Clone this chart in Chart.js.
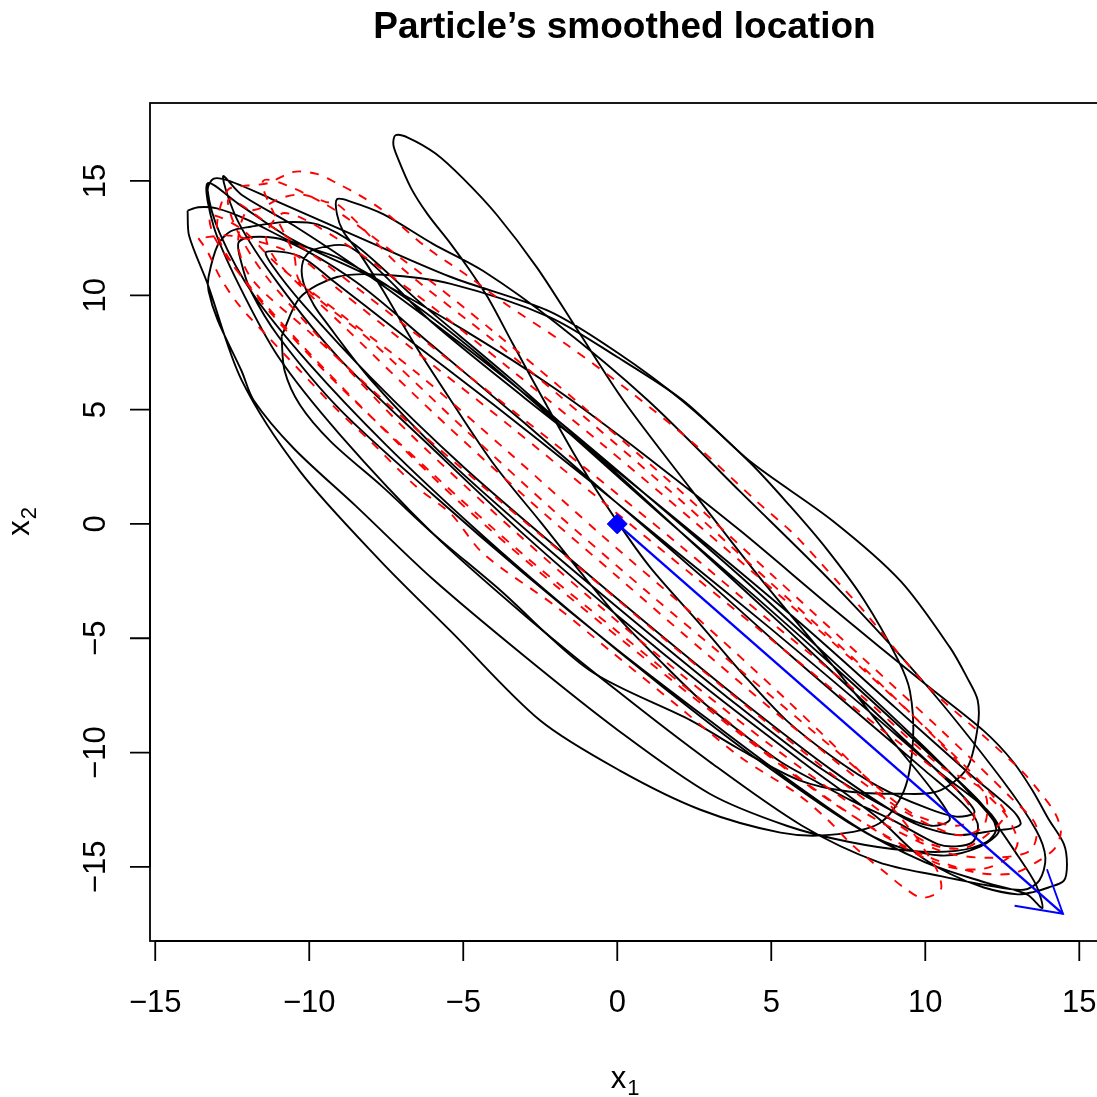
<!DOCTYPE html>
<html>
<head>
<meta charset="utf-8">
<script src="https://cdn.jsdelivr.net/npm/chart.js@4.4.1/dist/chart.umd.min.js"></script>
<style>
  html, body { margin: 0; padding: 0; background: #fff; overflow: hidden; }
  canvas { display: block; }
</style>
</head>
<body>
<canvas id="chart" width="1110" height="1097"></canvas>
<script>
// Axis ticks
const xTicks = [-15, -10, -5, 0, 5, 10, 15];
const yTicks = [-15, -10, -5, 0, 5, 10, 15];

// True path (black), read loop by loop off the picture
const blackLoop1 = [[-13.95,13.7],[-13.9,12.6],[-13.3,10.5],[-12.2,6.3],[-10.3,2.3],[-7.7,-1.6],[-5.4,-4.7],[-2.5,-8.6],[0.1,-10.8],[2.7,-12.5],[5.3,-13.5],[6.9,-13.6],[8.5,-13.1],[9.3,-11.7],[9.6,-9.5],[9.5,-7.3],[9.1,-5.9],[8.0,-3.3],[6.8,-1.1],[5.6,0.8],[4.3,2.7],[2.1,5.4],[0,7.5],[-2.2,9.3],[-5.4,10.8],[-8.5,12.6],[-11.2,14.2],[-12.6,15.0]];
const blackLoop2 = [[-13.1,15.1],[-13.3,14.6],[-12.9,12.7],[-11.8,10.0],[-10,7.0],[-7.5,3.45],[-4.5,-0.35],[-1.5,-3.85],[1.5,-7.15],[4.5,-10.25],[7.5,-13.05],[10,-14.8],[12,-15.7],[13.3,-16.2],[13.8,-16.8],[13.6,-15.8],[13.0,-14.5],[12,-12.6],[10,-9.8],[7,-6.0],[4,-2.3],[1,1.2],[-2,4.6],[-5,7.8],[-8,10.8],[-10.5,13.05],[-12.2,14.4]];
const blackLoop3 = [[-12.8,15.2],[-12.3,13.2],[-11,10.5],[-9,7.2],[-6,3.3],[-3,-0.5],[0,-4.0],[3,-7.3],[6,-10.4],[8.5,-12.9],[9.7,-14.4],[10.8,-15.3],[11.9,-15.9],[13.0,-16.2],[13.5,-16.1],[14.0,-15.9],[14.5,-15.6],[14.6,-14.9],[14.5,-14.0],[14.0,-12.9],[13.5,-11.7],[12.85,-10.4],[11.9,-9.05],[10,-7.0],[7,-3.7],[4,-0.3],[1,2.9],[-2,5.9],[-5,8.5],[-8,10.8],[-10.5,12.4],[-12.3,14.0]];
const blackLoop4 = [[-13.3,14.9],[-13.1,13.0],[-12.3,10.5],[-11,7.3],[-9,3.9],[-6,-0.4],[-3,-4.0],[0,-7.3],[3,-10.4],[6,-13.2],[8.5,-14.8],[10.5,-15.4],[12,-15.8],[13.2,-16.0],[13.7,-15.6],[13.9,-14.6],[13.6,-13.4],[12.5,-11.2],[10,-7.0],[7,-2.6],[4,1.4],[1,5.4],[-2,8.8],[-4.35,11.06],[-5.97,12.24],[-7.6,13.55],[-8.66,14.1]];
const blackLoop5 = [[-9.1,14.2],[-9.1,13.55],[-8.9,12.8],[-8.4,11.9],[-7.6,10.2],[-6.6,7.9],[-5.4,5.4],[-4,2.6],[-2.5,0.1],[-1.2,-2.1],[0.1,-4.2],[1.4,-6.0],[2.7,-7.7],[4,-9.1],[5.3,-10.4],[6.5,-11.3],[7.6,-12.1],[9,-13.0],[10.4,-14.0],[11.0,-14.1],[11.55,-13.9],[11.7,-13.1],[11.2,-12.2],[10,-10.8],[8,-8.5],[5.5,-5.6],[3,-2.6],[0,0.9],[-3,4.4],[-6,7.8],[-8.5,10.6],[-10.8,12.4],[-11.9,12.55]];
const blackLoop6 = [[-12.3,12.3],[-12.2,11.4],[-11.9,10.2],[-11,8.2],[-9,5.0],[-6,1.3],[-3,-2.2],[0,-5.5],[3,-8.6],[6,-11.6],[8.5,-13.8],[10.5,-14.5],[11.8,-14.1],[12.4,-13.4],[12.0,-12.5],[10.5,-10.9],[8,-8.0],[5,-4.6],[2,-1.3],[-1,2.0],[-4,5.2],[-7,8.3],[-9.2,10.6],[-10.3,11.7]];
const blackLoop7 = [[-11.4,11.9],[-11.2,11.3],[-10.2,9.6],[-8,6.4],[-5,2.5],[-2,-1.0],[1,-4.4],[4,-7.7],[7,-10.8],[9.5,-13.0],[11,-13.6],[12.3,-13.4],[12.85,-13.3],[13.1,-13.1],[12.85,-12.55],[11.5,-11.0],[9,-8.0],[6,-4.4],[3,-1.0],[0,2.3],[-3,5.5],[-6,8.8],[-8.66,12.1],[-9.86,12.0]];
const blackLoop8 = [[-10.2,11.5],[-10.2,10.6],[-9.86,9.6],[-9.5,8.9],[-8,6.3],[-5.5,2.8],[-2.5,-0.8],[0.5,-4.2],[3.5,-7.5],[6.5,-10.6],[9,-12.6],[10.2,-13.2],[10.8,-12.9],[10.2,-11.6],[9,-9.6],[7,-6.2],[4.6,-2.3],[2.4,1.5],[0.2,5.4],[-1.3,8.5],[-2.6,11.2],[-3.9,13.5],[-5.0,15.1],[-5.9,16.2],[-6.8,16.9]];
const blackLoop9 = [[-7.2,17.0],[-7.27,16.6],[-7.14,16.05],[-6.7,14.7],[-6.16,13.55],[-5.4,12.24],[-4.77,11.06],[-4.2,9.9],[-3.4,7.9],[-2.3,5.2],[-1.2,2.6],[0,0.1],[1.07,-1.9],[2.7,-4.4],[4.1,-6.6],[5.5,-8.6],[7,-10.2],[8.5,-11.5],[10,-12.4],[11.0,-12.8],[11.6,-12.6],[11.0,-11.6],[8.5,-8.4],[5.5,-4.6],[2.5,-0.9],[-0.5,2.8],[-3.5,6.4],[-6.5,9.8],[-8.5,12.2],[-9.73,13.1],[-10.8,13.2],[-11.9,13.0],[-12.55,12.8],[-12.97,12.2]];
const blackLoop10 = [[-13.27,10.8],[-13.27,10.2],[-12.97,8.9],[-12.2,6.7],[-11.8,5.4],[-10.5,3.3],[-8.5,0.8],[-6,-2.4],[-3,-5.8],[0,-9.0],[3,-11.8],[5.5,-13.2],[7.5,-13.9],[9.5,-14.3],[11,-14.3],[12,-13.9],[12.3,-13.3],[11.8,-12.2],[10,-9.9],[7.5,-6.8],[4.5,-3.2],[1.5,0.3],[-1.5,3.9],[-4.5,7.4],[-7,10.0],[-9,11.6],[-10.5,12.3],[-12.0,13.3],[-13.0,13.8],[-13.6,13.85],[-13.95,13.7]];
const blackRound = [[-10.9,8.2],[-10.8,6.7],[-10.3,5.2],[-9.3,3.6],[-7.6,1.6],[-6,-0.4],[-3.8,-2.9],[-0.9,-6.4],[2.4,-8.6],[3.9,-9.8],[5.9,-11.2],[7.5,-11.7],[9.2,-11.8],[10.4,-11.7],[11.35,-10.7],[11.7,-8.9],[11.7,-7.7],[11.35,-6.7],[10.8,-5.4],[9.2,-2.5],[7.0,0.13],[4.3,2.75],[2.14,5.4],[0,7.3],[-2.2,9.05],[-5.4,10.5],[-7.6,10.9],[-9.1,10.8],[-10.3,9.9],[-10.9,8.2]];

// Smoothed path (red dashed)
const redLoop1 = [[-13.6,12.5],[-13.3,11.9],[-12.9,10.8],[-12.3,9.6],[-11.35,8.2],[-10.3,6.7],[-9.1,5.0],[-8,3.6],[-6.5,1.6],[-5.4,0.44],[-4.35,-1.3],[-2,-3.6],[-0.23,-5.55],[2,-8.0],[4,-10.2],[5.84,-11.8],[6.8,-12.9],[7.6,-14.0],[8.2,-14.7],[8.75,-15.3],[9.3,-15.9],[9.9,-16.35],[10.5,-16.0],[10.4,-15.2],[10.0,-14.3],[9.6,-13.5],[8,-11.0],[5.5,-7.7],[2.5,-4.0],[-0.5,-0.5],[-3.5,3.1],[-6.5,6.6],[-9,9.2],[-11,11.3],[-12.2,12.9]];
const redLoop2 = [[-13.2,13.5],[-13.1,12.6],[-12.3,11.0],[-10.5,8.2],[-8,4.7],[-5,0.8],[-2,-2.7],[1,-6.0],[4,-9.2],[7,-12.2],[9.5,-14.2],[11.5,-15.2],[12.8,-15.3],[13.6,-14.8],[14.2,-14.2],[14.4,-13.5],[14.3,-12.9],[14.1,-12.4],[13.7,-11.7],[13.2,-10.9],[12,-9.4],[10,-7.0],[8,-3.8],[7.2,-2.6],[6.6,-1.7],[5.7,-0.4],[4.6,0.9],[2.5,3.5],[0.4,5.8],[-1.6,7.8],[-3.6,9.6],[-4.8,10.8],[-6.2,12.1],[-7.6,13.7],[-8.4,14.4],[-9.1,14.9],[-9.73,15.3],[-10.5,15.4],[-11.35,14.9],[-12.0,14.8],[-12.65,14.6]];
const redLoop3 = [[-13.0,12.9],[-12.6,11.6],[-11.3,9.3],[-9,6.0],[-6,2.2],[-3,-1.4],[0,-4.7],[3,-8.0],[6,-11.2],[8.5,-13.5],[10.5,-14.9],[11.8,-15.1],[12.7,-14.6],[13.0,-13.9],[12.6,-12.7],[11.9,-11.7],[10.5,-9.6],[8,-6.3],[5,-2.6],[2,1.1],[-1,4.6],[-4,8.0],[-7,11.2],[-9,13.9],[-9.5,14.1],[-10.2,14.4],[-10.8,14.3],[-11.6,13.8],[-12.1,13.55]];
const redLoop4 = [[-12.3,12.1],[-11.8,10.6],[-10,8.4],[-7.5,5.3],[-4.5,1.8],[-1.5,-1.6],[1.5,-5.0],[4.5,-8.3],[7.5,-11.5],[10,-13.9],[11.2,-14.2],[12.0,-13.6],[12.6,-12.7],[12.2,-11.9],[11,-10.2],[8.5,-7.0],[5.5,-3.4],[2.5,0.1],[-0.5,3.5],[-3.5,6.8],[-6.5,10.0],[-9,12.4],[-10.8,13.6]];
const redLoop5 = [[-11.4,12.6],[-11.0,11.4],[-9,8.8],[-6,4.9],[-3,1.2],[0,-2.3],[3,-5.8],[6,-9.2],[9,-12.3],[11,-13.6],[11.9,-13.2],[11.9,-11.7],[10.5,-10.6],[8,-7.6],[5,-4.3],[2,-0.9],[-1,2.4],[-4,5.6],[-7,8.8],[-9.5,11.4],[-11,12.8]];
const redLoop6 = [[-12.6,14.2],[-12.4,13.0],[-11.5,11.0],[-9.5,7.9],[-7,4.3],[-4,0.5],[-1,-3.1],[2,-6.5],[5,-9.7],[8,-12.6],[10.5,-14.3],[12,-14.6],[13.4,-14.3],[13.6,-13.2],[12.8,-12.0],[10.5,-9.0],[8,-5.9],[5,-2.2],[2,1.5],[-1,5.0],[-4,8.4],[-7,11.6],[-9.5,14.0],[-11.5,15.0]];
const redLoop7 = [[-10.5,11.8],[-10.3,10.6],[-8,8.0],[-5,4.2],[-2,0.5],[1,-3.0],[4,-6.4],[7,-9.8],[9.5,-12.6],[11,-13.2],[11.6,-12.8],[10.8,-11.3],[8.5,-8.9],[5.5,-5.6],[2.5,-2.3],[-0.5,1.0],[-3.5,4.3],[-6.5,7.5],[-9,10.2],[-10.5,11.8],[-12.5,12.6],[-13.6,12.5]];

// Start point and velocity arrow (blue)
const startPoint = [0, 0];
const arrowTo = [14.47, -17.05];
const arrowWingA = [12.9, -16.7];
const arrowWingB = [13.95, -15.1];

const titleText = 'Particle\u2019s smoothed location';

const toXY = pts => pts.map(p => ({ x: p[0], y: p[1] }));
const blackPath = [].concat(blackLoop1, blackLoop2, blackLoop3, blackLoop4, blackLoop5,
                            blackLoop6, blackLoop7, blackLoop8, blackLoop9, blackLoop10);
const redPath = [].concat(redLoop1, redLoop2, redLoop3, redLoop4, redLoop5, redLoop6, redLoop7);

const FONT = '"Liberation Sans", Arial, Helvetica, sans-serif';
const fmt = v => (v < 0 ? '\u2212' + Math.abs(v) : String(v));

// R-style box, axes and titles
const rAxes = {
  id: 'rAxes',
  afterDraw(chart) {
    const ctx = chart.ctx;
    const a = chart.chartArea;
    const xs = chart.scales.x, ys = chart.scales.y;
    ctx.save();
    ctx.strokeStyle = '#000';
    ctx.fillStyle = '#000';
    ctx.lineWidth = 1.8;
    ctx.strokeRect(a.left, a.top, a.right - a.left, a.bottom - a.top);

    ctx.beginPath();
    ctx.moveTo(xs.getPixelForValue(xTicks[0]), a.bottom);
    ctx.lineTo(xs.getPixelForValue(xTicks[xTicks.length - 1]), a.bottom);
    xTicks.forEach(v => {
      const p = xs.getPixelForValue(v);
      ctx.moveTo(p, a.bottom);
      ctx.lineTo(p, a.bottom + 20);
    });
    ctx.moveTo(a.left, ys.getPixelForValue(yTicks[0]));
    ctx.lineTo(a.left, ys.getPixelForValue(yTicks[yTicks.length - 1]));
    yTicks.forEach(v => {
      const p = ys.getPixelForValue(v);
      ctx.moveTo(a.left, p);
      ctx.lineTo(a.left - 20, p);
    });
    ctx.stroke();

    ctx.font = '31px ' + FONT;
    ctx.textAlign = 'center';
    ctx.textBaseline = 'alphabetic';
    xTicks.forEach(v => ctx.fillText(fmt(v), xs.getPixelForValue(v), a.bottom + 71));
    yTicks.forEach(v => {
      ctx.save();
      ctx.translate(a.left - 45, ys.getPixelForValue(v));
      ctx.rotate(-Math.PI / 2);
      ctx.fillText(fmt(v), 0, 0);
      ctx.restore();
    });

    // title
    ctx.font = 'bold 37px ' + FONT;
    ctx.fillText(titleText, (a.left + a.right) / 2, 38);

    // axis titles with subscripts
    const drawSub = (main, sub, cx, cy) => {
      ctx.font = '31px ' + FONT;
      const w1 = ctx.measureText(main).width;
      ctx.font = '22px ' + FONT;
      const w2 = ctx.measureText(sub).width;
      const x0 = cx - (w1 + w2) / 2;
      ctx.textAlign = 'left';
      ctx.font = '31px ' + FONT;
      ctx.fillText(main, x0, cy);
      ctx.font = '22px ' + FONT;
      ctx.fillText(sub, x0 + w1 + 1, cy + 7);
    };
    const cxMid = (a.left + a.right) / 2;
    drawSub('x', '1', cxMid, 1088);
    ctx.save();
    ctx.translate(29, (a.top + a.bottom) / 2);
    ctx.rotate(-Math.PI / 2);
    drawSub('x', '2', 0, 0);
    ctx.restore();
    ctx.restore();
  }
};

new Chart(document.getElementById('chart'), {
  type: 'scatter',
  data: {
    datasets: [
      {
        data: toXY([startPoint]),
        showLine: false,
        pointStyle: 'rectRot',
        pointRadius: 10,
        backgroundColor: '#0000ff',
        borderColor: '#0000ff',
        borderWidth: 1,
        order: 0
      },
      {
        data: toXY([startPoint, arrowTo]),
        showLine: true,
        borderColor: '#0000ff',
        borderWidth: 2.4,
        pointRadius: 0,
        tension: 0,
        order: 0
      },
      {
        data: toXY([arrowWingA, arrowTo, arrowWingB]),
        showLine: true,
        borderColor: '#0000ff',
        borderWidth: 1.9,
        pointRadius: 0,
        tension: 0,
        order: 0
      },
      {
        data: toXY(redPath),
        showLine: true,
        borderColor: '#ff0000',
        borderWidth: 1.9,
        borderDash: [9, 9],
        pointRadius: 0,
        tension: 0.3,
        order: 1
      },
      {
        data: toXY(blackPath),
        showLine: true,
        borderColor: '#000000',
        borderWidth: 1.9,
        pointRadius: 0,
        tension: 0.3,
        order: 2
      },
      {
        data: toXY(blackRound),
        showLine: true,
        borderColor: '#000000',
        borderWidth: 1.9,
        pointRadius: 0,
        tension: 0.3,
        order: 2
      }
    ]
  },
  options: {
    responsive: false,
    animation: false,
    events: [],
    layout: { padding: { left: 150, top: 103, right: 10, bottom: 156 } },
    scales: {
      x: { type: 'linear', min: -15.17, max: 15.64, display: false },
      y: { type: 'linear', min: -18.24, max: 18.41, display: false }
    },
    plugins: {
      legend: { display: false },
      title: { display: false },
      tooltip: { enabled: false }
    }
  },
  plugins: [rAxes]
});
</script>
</body>
</html>
